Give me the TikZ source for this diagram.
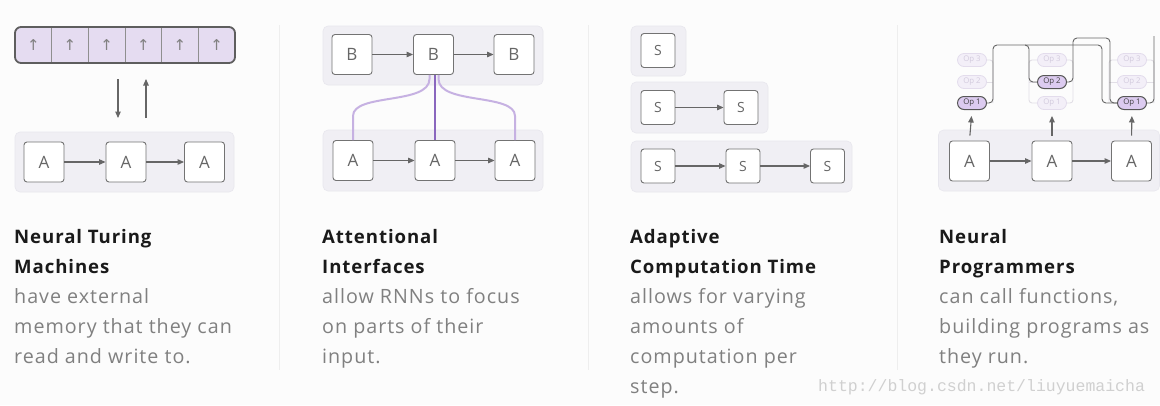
\documentclass[tikz,border=0pt]{standalone}
\usepackage{fontspec}
\setmainfont{Open Sans}[LetterSpace=5]
\newfontfamily\dejavu{DejaVu Sans}
\newfontfamily\wmfont{Liberation Mono}
\newfontfamily\boxfont{Open Sans}
\usetikzlibrary{arrows.meta}
\definecolor{bg}{HTML}{FCFCFC}
\definecolor{panelc}{HTML}{F0EFF4}
\definecolor{panelline}{HTML}{E8E7EE}
\definecolor{boxline}{HTML}{737373}
\definecolor{arr}{HTML}{666666}
\definecolor{memc}{HTML}{E5DCF1}
\definecolor{memline}{HTML}{5E5E5E}
\definecolor{lpurple}{HTML}{C6B1E2}
\definecolor{dpurple}{HTML}{8A67BE}
\definecolor{opfill}{HTML}{DCCBF0}
\definecolor{opfaint}{HTML}{F3EFF8}
\definecolor{opfaintline}{HTML}{E3DCEC}
\definecolor{optextfaint}{HTML}{D2CADD}
\definecolor{wirefaint}{HTML}{E2DFE6}
\definecolor{titlec}{HTML}{1A1A1A}
\definecolor{bodyc}{HTML}{808080}
\definecolor{sepc}{HTML}{EEEEEE}
\definecolor{wmc}{HTML}{D0D0D0}
\begin{document}
\begin{tikzpicture}[x=1pt,y=-1pt,
  panelbox/.style={fill=panelc,draw=panelline,line width=0.6pt,rounded corners=5pt,inner sep=0pt},
  cellbox/.style={draw=boxline,fill=white,rounded corners=3pt,line width=0.9pt,minimum width=40pt,minimum height=40pt,inner sep=0pt,text=arr,font=\boxfont\fontsize{17}{17}\selectfont},
  sbox/.style={cellbox,minimum width=34pt,minimum height=34pt,font=\boxfont\fontsize{14}{14}\selectfont},
  flow/.style={draw=arr,line width=1.1pt,-{Triangle[length=6.5pt,width=5.5pt]}},
  opon/.style={draw=arr!85!black,fill=opfill,line width=1pt,rounded corners=6.5pt,minimum width=29pt,minimum height=13pt,inner sep=0pt,text=black!75,font=\boxfont\fontsize{7.8}{7.8}\selectfont},
  opoff/.style={draw=opfaintline,fill=opfaint,line width=0.8pt,rounded corners=6.5pt,minimum width=29pt,minimum height=13pt,inner sep=0pt,text=optextfaint,font=\boxfont\fontsize{7.8}{7.8}\selectfont},
  faintwire/.style={draw=wirefaint,line width=0.9pt,rounded corners=3pt},
  wire/.style={draw=arr,line width=0.9pt,rounded corners=4pt},
  title/.style={anchor=base west,inner sep=0pt,text=titlec,font=\bfseries\fontsize{18.6}{18.6}\selectfont},
  body/.style={anchor=base west,inner sep=0pt,text=bodyc,font=\fontsize{19.7}{19.7}\selectfont},
  sep/.style={draw=sepc,line width=1pt}]
\useasboundingbox (0,0) rectangle (1160,405);
\fill[bg] (0,0) rectangle (1160,405);

% separators
\draw[sep] (279,25) -- (279,370);
\draw[sep] (588,25) -- (588,370);
\draw[sep] (897,25) -- (897,370);

% ---------- Panel 1: Neural Turing Machines ----------
\node[fill=memc,draw=memline,line width=1.8pt,rounded corners=6pt,minimum width=220pt,minimum height=36pt,inner sep=0pt] (mem) at (125,45) {};
\foreach \i in {1,...,5} {
  \draw[draw=boxline!80,line width=0.9pt] (15+36.667*\i,27.9) -- (15+36.667*\i,62.1);
}
\foreach \i [count=\k] in {0,...,5} {
  \node[text=boxline!90,font=\dejavu\fontsize{15}{15}\selectfont,inner sep=0pt] (m\k) at (15+36.667*\i+18.33,45) {↑};
}
\coordinate (rd1) at (118,79);
\coordinate (rd2) at (118,118);
\coordinate (wr1) at (146,118);
\coordinate (wr2) at (146,79);
\draw[flow] (rd1) -- (rd2);
\draw[flow] (wr1) -- (wr2);

\node[panelbox,minimum width=219pt,minimum height=60pt] (p1) at (124.5,162) {};
\node[cellbox] (na1) at (44,162) {A};
\node[cellbox] (na2) at (126,162) {A};
\node[cellbox] (na3) at (204.5,162) {A};
\draw[flow] (na1) -- (na2);
\draw[flow] (na2) -- (na3);

% ---------- Panel 2: Attentional Interfaces ----------
\node[panelbox,minimum width=220pt,minimum height=59pt] (p2t) at (433,55.5) {};
\node[panelbox,minimum width=220pt,minimum height=61pt] (p2b) at (433,160.5) {};
\node[cellbox] (b1) at (352,54.5) {B};
\node[cellbox] (b2) at (433.5,54.5) {B};
\node[cellbox] (b3) at (514,54.5) {B};
\node[cellbox] (ia1) at (353,160.5) {A};
\node[cellbox] (ia2) at (435,160.5) {A};
\node[cellbox] (ia3) at (515,160.5) {A};
\draw[flow] (b1) -- (b2);
\draw[flow] (b2) -- (b3);
\draw[flow] (ia1) -- (ia2);
\draw[flow] (ia2) -- (ia3);
\draw[draw=lpurple,line width=2pt] ([xshift=-4pt]b2.south) -- ++(0,4) .. controls +(0,26) and (353,93) .. (353,116) -- (ia1.north);
\draw[draw=lpurple,line width=2pt] ([xshift=5pt]b2.south) -- ++(0,4) .. controls +(0,26) and (515,93) .. (515,116) -- (ia3.north);
\draw[draw=dpurple,line width=2pt] ([xshift=1pt]b2.south) -- ([xshift=-0.5pt]ia2.north);

% ---------- Panel 3: Adaptive Computation Time ----------
\node[panelbox,minimum width=55pt,minimum height=50pt] (q1) at (658.5,51) {};
\node[panelbox,minimum width=137pt,minimum height=51pt] (q2) at (699.5,107.5) {};
\node[panelbox,minimum width=221pt,minimum height=51pt] (q3) at (741.5,166.5) {};
\node[sbox] (s11) at (658,50.5) {S};
\node[sbox] (s21) at (658,107.5) {S};
\node[sbox] (s22) at (741,107.5) {S};
\node[sbox] (s31) at (658,166) {S};
\node[sbox] (s32) at (743,166) {S};
\node[sbox] (s33) at (827.5,166) {S};
\draw[flow] (s21) -- (s22);
\draw[flow] (s31) -- (s32);
\draw[flow] (s32) -- (s33);

% ---------- Panel 4: Neural Programmers ----------
\node[panelbox,minimum width=221pt,minimum height=61pt] (p4) at (1049,160.5) {};
\node[cellbox] (pa1) at (969.5,161) {A};
\node[cellbox] (pa2) at (1052,161) {A};
\node[cellbox] (pa3) at (1131.5,161) {A};
\draw[flow] (pa1) -- (pa2);
\draw[flow] (pa2) -- (pa3);

% faint buses (drawn first)
\draw[faintwire] (987,60) -| (993,103);
\draw[faintwire] (987,82) -- (993,82);
\draw[faintwire] (1037,60) -| (1029,103) -- (1037,103);
\draw[faintwire] (1037,82) -- (1029,82);
\draw[faintwire] (1067,60) -| (1073,103) -- (1067,103);
\draw[faintwire] (1117,60) -| (1109,103);
\draw[faintwire] (1117,82) -- (1109,82);
\draw[faintwire] (1147,60) -| (1154,103);
\draw[faintwire] (1147,82) -- (1154,82);

\node[opoff] (o13) at (972,60) {Op 3};
\node[opoff] (o12) at (972,82) {Op 2};
\node[opon]  (o11) at (972,103) {Op 1};
\node[opoff] (o23) at (1052,60) {Op 3};
\node[opon]  (o22) at (1052,82) {Op 2};
\node[opoff] (o21) at (1052,103) {Op 1};
\node[opoff] (o33) at (1132,60) {Op 3};
\node[opoff] (o32) at (1132,82) {Op 2};
\node[opon]  (o31) at (1132,103) {Op 1};

\coordinate (top3) at (1154,36);
\draw[wire] (o11.east) -- (993,103) -- (993,45) -- (1029,45) -- (1029,82) -- (o22.west);
\draw[wire] (1025,45) -- (1102,45) -- (1102,103) -- (o31.west);
\draw[wire] (o22.east) -- (1073,82) -- (1073,38) -- (1110,38) -- (1110,103) -- (o31.west);
\draw[wire] (o31.east) -- (1154,103) -- (top3);

\draw[flow,shorten <=5pt,shorten >=6pt] (pa1.north) -- (o11.south);
\draw[flow,shorten <=5pt,shorten >=6pt] (pa2.north) -- (o21.south);
\draw[flow,shorten <=5pt,shorten >=6pt] (pa3.north) -- (o31.south);

% ---------- Texts ----------
\node[title] (t1a) at (14,243) {Neural Turing};
\node[title] (t1b) at (14,273) {Machines};
\node[body] (d1a) at (14,303) {have external};
\node[body] (d1b) at (14,333) {memory that they can};
\node[body] (d1c) at (14,363) {read and write to.};

\node[title] (t2a) at (322,243) {Attentional};
\node[title] (t2b) at (322,273) {Interfaces};
\node[body] (d2a) at (322,303) {allow RNNs to focus};
\node[body] (d2b) at (322,333) {on parts of their};
\node[body] (d2c) at (322,363) {input.};

\node[title] (t3a) at (630,243) {Adaptive};
\node[title] (t3b) at (630,273) {Computation Time};
\node[body] (d3a) at (630,303) {allows for varying};
\node[body] (d3b) at (630,333) {amounts of};
\node[body] (d3c) at (630,363) {computation per};
\node[body] (d3d) at (630,393) {step.};

\node[title] (t4a) at (939,243) {Neural};
\node[title] (t4b) at (939,273) {Programmers};
\node[body] (d4a) at (939,303) {can call functions,};
\node[body] (d4b) at (939,333) {building programs as};
\node[body] (d4c) at (939,363) {they run.};

\node[anchor=base west,inner sep=0pt,text=wmc,font=\wmfont\fontsize{16.5}{16.5}\selectfont] (wm) at (818,391) {http://blog.csdn.net/liuyuemaicha};
\end{tikzpicture}
\end{document}
